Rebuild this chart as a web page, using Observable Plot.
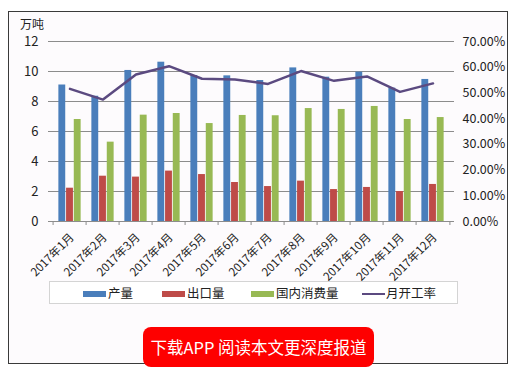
<!DOCTYPE html>
<html>
<head>
<meta charset="utf-8">
<script src="https://cdn.jsdelivr.net/npm/d3@7"></script>
<script src="https://cdn.jsdelivr.net/npm/@observablehq/plot@0.6"></script>
<style>
  body { margin: 0; background: #fff; font-family: "Noto Sans CJK SC", "Noto Sans", sans-serif; }
  #wrap { position: relative; width: 520px; height: 370px; overflow: hidden; }
  #frame { position: absolute; left: 8px; top: 11px; width: 500px; height: 353px; border: 1px solid #3a3a3a; background: #fdfbfd; box-sizing: border-box; }
  #chart { position: absolute; left: 0; top: 0; }
  #unit { position: absolute; left: 20px; top: 18px; font-size: 12px; line-height: 12px; color: #222; }
  #legend { position: absolute; left: 49px; top: 281px; width: 409px; height: 23px; border: 1px solid #d4d4d4; box-sizing: border-box; background: #fff; font-size: 12.5px; color: #222; }
  .item { position: absolute; top: 3px; line-height: 16px; white-space: nowrap; }
  .sw { display: inline-block; width: 23px; height: 6px; vertical-align: middle; margin-right: 2px; position: relative; top: -1px; }
  .ln { display: inline-block; width: 23px; height: 2px; vertical-align: middle; margin-right: 1px; position: relative; top: -1px; }
  #btn { position: absolute; left: 143px; top: 327px; width: 231px; height: 40px; background: #fe0000; border-radius: 8px; color: #fff; font-size: 16.5px; line-height: 40px; text-align: center; }
</style>
</head>
<body>
<div id="wrap">
  <div id="frame"></div>
  <div id="chart"></div>
  <div id="unit">万吨</div>
  <div id="legend"></div>
  <div id="btn">下载APP 阅读本文更深度报道</div>
</div>
<script>
const months = ["2017年1月","2017年2月","2017年3月","2017年4月","2017年5月","2017年6月","2017年7月","2017年8月","2017年9月","2017年10月","2017年11月","2017年12月"];
const production = [9.1, 8.35, 10.07, 10.62, 9.73, 9.71, 9.4, 10.24, 9.62, 9.96, 8.89, 9.47];
const exportVol = [2.22, 3.02, 2.96, 3.36, 3.13, 2.6, 2.33, 2.69, 2.13, 2.27, 2.0, 2.47];
const domestic = [6.8, 5.29, 7.09, 7.2, 6.53, 7.07, 7.05, 7.53, 7.47, 7.67, 6.8, 6.93];
const rate = [51.6, 47.4, 57.2, 60.4, 55.5, 55.2, 53.5, 58.5, 54.7, 56.4, 50.4, 53.7];
const leftTicks = [0, 2, 4, 6, 8, 10, 12];
const rightTicks = [0, 10, 20, 30, 40, 50, 60, 70];
const seriesNames = ["产量", "出口量", "国内消费量", "月开工率"];
const colors = ["#4a7ebb", "#be4b48", "#98b954", "#5b4a80"];

const leftMax = 12, rightMax = 70;
const toLeft = v => v * leftMax / rightMax;

const data = months.map((m, i) => ({month: m, production: production[i], exportVol: exportVol[i], domestic: domestic[i], rate: rate[i]}));

const W = 520, H = 280, mL = 48, mR = 66, mT = 41, mB = 59;
const bw = (W - mL - mR) / months.length;
const barW = 7.7;
const inset = (bw - barW) / 2;

const plot = Plot.plot({
  width: W, height: H,
  marginLeft: mL, marginRight: mR, marginTop: mT, marginBottom: mB,
  style: {background: "transparent", fontFamily: "'Noto Sans CJK SC', 'Noto Sans', sans-serif", color: "#222", overflow: "visible"},
  x: {domain: months, padding: 0, axis: null},
  y: {domain: [0, leftMax], axis: null},
  marks: [
    Plot.gridY(leftTicks, {stroke: "#8c8c8c", strokeOpacity: 1, strokeWidth: 1}),
    Plot.barY(data, {x: "month", y: "production", fill: colors[0], insetLeft: inset, insetRight: inset, dx: -barW}),
    Plot.barY(data, {x: "month", y: "exportVol", fill: colors[1], insetLeft: inset, insetRight: inset}),
    Plot.barY(data, {x: "month", y: "domestic", fill: colors[2], insetLeft: inset, insetRight: inset, dx: barW}),
    Plot.ruleY([0], {stroke: "#8c8c8c"}),
    Plot.lineY(data, {x: "month", y: d => toLeft(d.rate), stroke: colors[3], strokeWidth: 2.5}),
    Plot.axisY(leftTicks, {anchor: "left", label: null, tickSize: 0, tickPadding: 10, fontSize: 13, tickFormat: d => d}),
    Plot.axisY(rightTicks.map(toLeft), {anchor: "right", label: null, tickSize: 0, tickPadding: 8, fontSize: 12.5, tickFormat: d => (d * rightMax / leftMax).toFixed(2) + "%"}),
    Plot.axisX(months, {anchor: "bottom", label: null, tickSize: 4, stroke: "#8c8c8c", dx: -bw / 2, tickFormat: null}),
    Plot.axisX([months[months.length - 1]], {anchor: "bottom", label: null, tickSize: 4, stroke: "#8c8c8c", dx: bw / 2, tickFormat: null}),
    Plot.axisX(months, {anchor: "bottom", label: null, tickSize: 0, tickRotate: -45, tickPadding: 14, fontSize: 11.5, dx: 2})
  ]
});
document.getElementById("chart").appendChild(plot);

const legend = document.getElementById("legend");
const itemX = [33, 112, 201, 312];
seriesNames.forEach((name, i) => {
  const el = document.createElement("div");
  el.className = "item";
  el.style.left = itemX[i] + "px";
  const sw = document.createElement("span");
  sw.className = i < 3 ? "sw" : "ln";
  sw.style.background = colors[i];
  el.appendChild(sw);
  el.appendChild(document.createTextNode(name));
  legend.appendChild(el);
});
</script>
</body>
</html>
